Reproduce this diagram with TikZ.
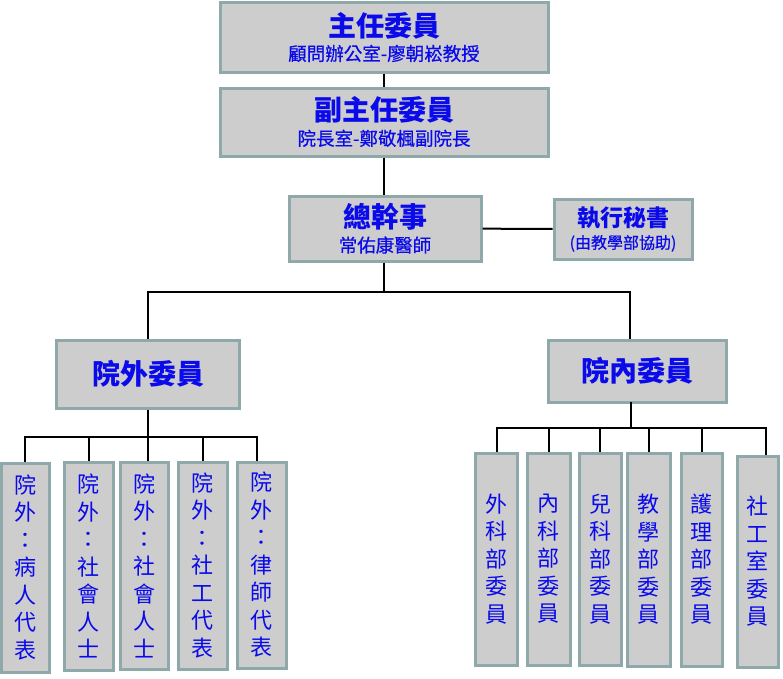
\documentclass[tikz,border=0pt]{standalone}
\usepackage{fontspec}
\newfontfamily\cjk{Noto Sans CJK TC}
\newfontfamily\cjkmed[FakeBold=0.6]{Noto Sans CJK TC}
\begin{document}
\begin{tikzpicture}[x=1pt,y=-1pt,
  bx/.style={draw=bordercol, line width=3pt, fill=boxfill, inner sep=0pt, text=txtblue, align=center},
  hbox/.style={bx, font=\cjkmed\fontsize{18.5}{24.5}\selectfont},
  vbox/.style={bx, font=\cjk\fontsize{22}{27.5}\selectfont},
  conn/.style={line width=2pt, black}]
\definecolor{bordercol}{RGB}{143,168,170}
\definecolor{boxfill}{RGB}{205,205,205}
\definecolor{txtblue}{RGB}{10,10,235}
\newcommand\ttl[1]{{\cjk\bfseries\fontsize{28}{32}\selectfont #1}}
\useasboundingbox (0,0) rectangle (783,678);
% top level
\node[hbox, minimum width=328pt, minimum height=70pt] (top) at (384,37)
  {\ttl{主任委員}\\顧問辦公室-廖朝崧教授};
\node[hbox, minimum width=328pt, minimum height=68pt] (vice) at (384,122)
  {\ttl{副主任委員}\\院長室-鄭敬楓副院長};
\node[hbox, minimum width=192pt, minimum height=65pt] (gen) at (385,228.5)
  {\ttl{總幹事}\\常佑康醫師};
\node[bx, minimum width=138pt, minimum height=60pt, font=\cjkmed\fontsize{16}{22.5}\selectfont] (sec) at (623,229)
  {{\cjk\bfseries\fontsize{23}{27}\selectfont 執行秘書}\\(由教學部協助)};
\node[bx, minimum width=183pt, minimum height=68pt, font=\cjk\bfseries\fontsize{28}{32}\selectfont] (out) at (148,374) {院外委員};
\node[bx, minimum width=178pt, minimum height=62pt, font=\cjk\bfseries\fontsize{28}{32}\selectfont] (in) at (637,371) {院內委員};
% left children
\node[vbox, minimum width=48pt, minimum height=209pt] (c1) at (25,567.5) {院\\外\\：\\病\\人\\代\\表};
\node[vbox, minimum width=49pt, minimum height=208pt] (c2) at (88.5,566) {院\\外\\：\\社\\會\\人\\士};
\node[vbox, minimum width=48pt, minimum height=207pt] (c3) at (144,565.5) {院\\外\\：\\社\\會\\人\\士};
\node[vbox, minimum width=49pt, minimum height=207pt] (c4) at (202.5,565.5) {院\\外\\：\\社\\工\\代\\表};
\node[vbox, minimum width=49pt, minimum height=206pt] (c5) at (261.5,565) {院\\外\\：\\律\\師\\代\\表};
% right children
\node[vbox, minimum width=42pt, minimum height=212pt] (r1) at (496,559) {外\\科\\部\\委\\員};
\node[vbox, minimum width=43pt, minimum height=212pt] (r2) at (548.5,559) {內\\科\\部\\委\\員};
\node[vbox, minimum width=42pt, minimum height=212pt] (r3) at (600,559) {兒\\科\\部\\委\\員};
\node[vbox, minimum width=43pt, minimum height=213pt] (r4) at (648.5,559.5) {教\\學\\部\\委\\員};
\node[vbox, minimum width=41pt, minimum height=213pt] (r5) at (701.5,559.5) {護\\理\\部\\委\\員};
\node[vbox, minimum width=41pt, minimum height=211pt] (r6) at (757.5,561.5) {社\\工\\室\\委\\員};
% connectors
\draw[conn] (top) -- (vice);
\draw[conn] (vice.south -| top.south) -- (gen.north -| top.south);
\draw[conn] (gen) -- (sec);
\coordinate (jL) at (148,292);
\coordinate (jR) at (630,292);
\draw[conn] (gen.south -| top.south) -- (jL -| top.south);
\draw[conn] (out.north) -- (jL) -- (jR) -- (in.north -| jR);
% left bus
\coordinate (lb1) at (25,437);
\coordinate (lb5) at (257,437);
\draw[conn] (out.south) -- (c3.north -| out.south);
\draw[conn] (c1.north) -- (lb1) -- (lb5) -- (c5.north -| lb5);
\draw[conn] (c2.north) -- (c2.north |- lb1);
\draw[conn] (c4.north) -- (c4.north |- lb1);
% right bus
\coordinate (rb1) at (497,428);
\coordinate (rb6) at (766,428);
\coordinate (inB) at (631,402);
\draw[conn] (inB) -- (inB |- rb1);
\draw[conn] (r1.north -| rb1) -- (rb1) -- (rb6) -- (r6.north -| rb6);
\draw[conn] (r2.north) -- (r2.north |- rb1);
\draw[conn] (r3.north) -- (r3.north |- rb1);
\draw[conn] (r4.north) -- (r4.north |- rb1);
\draw[conn] (r5.north) -- (r5.north |- rb1);
\end{tikzpicture}
\end{document}
